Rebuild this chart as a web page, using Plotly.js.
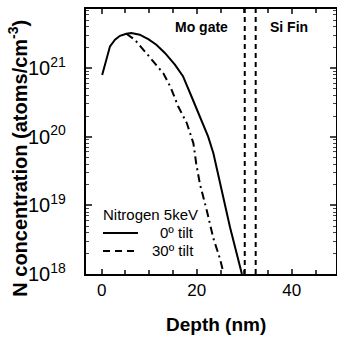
<!DOCTYPE html>
<html>
<head>
<meta charset="utf-8">
<script src="https://cdn.plot.ly/plotly-3.0.1.min.js"></script>
<style>html,body{margin:0;padding:0;background:#fff;}#chart{width:337px;height:341px;}</style>
</head>
<body>
<div id="chart"></div>
<script>
// Depth (nm) and N concentration (atoms/cm^3)
var depth0 = [0.1, 1.05, 1.75, 2.8, 3.85, 5.2, 6.25, 8.0, 9.8, 11.5, 13.3, 15.4, 17.1, 18.9, 20.7, 22.4, 23.5, 24.3, 25.0, 27.0, 29.5];
var conc0  = [7.9e20, 1.40e21, 2.07e21, 2.59e21, 2.95e21, 3.16e21, 3.24e21, 3.06e21, 2.63e21, 2.19e21, 1.66e21, 1.12e21, 7.6e20, 3.85e20, 1.95e20, 1.0e20, 5.75e19, 3.31e19, 2.0e19, 4.8e18, 1.0e18];
var depth30 = [5.2, 7.0, 9.1, 11.2, 13.0, 14.5, 16.1, 17.9, 19.3, 19.9, 20.7, 22.1, 23.5, 24.9, 25.5];
var conc30  = [3.16e21, 2.57e21, 1.74e21, 1.17e21, 8.3e20, 5.25e20, 2.75e20, 1.58e20, 8.0e19, 4.0e19, 2.0e19, 8.5e18, 3.3e18, 1.66e18, 1.12e18];
var boundaries = [30.1, 32.4];          // Mo gate / Si Fin interface lines
var regionLabels = ["Mo gate", "Si Fin"];
var regionLabelX = [21, 39.5];
var seriesNames = ["0\u00ba tilt", "30\u00ba tilt"];
var legendTitle = "Nitrogen 5keV";

var FONT = "Liberation Sans, Arial, sans-serif";

var traces = [
  {x: depth0, y: conc0, mode: "lines", line: {color: "#000", width: 2}, showlegend: false},
  {x: depth30, y: conc30, mode: "lines", line: {color: "#000", width: 2, dash: "8px,4px,2px,4px"}, showlegend: false}
];

var shapes = boundaries.map(function (b) {
  return {type: "line", xref: "x", yref: "paper", x0: b, x1: b, y0: 0, y1: 1,
          line: {color: "#000", width: 2, dash: "5px,4px"}};
});
// legend samples
shapes.push({type: "line", xref: "paper", yref: "paper", x0: 0.068, x1: 0.208, y0: 0.155, y1: 0.155, line: {color: "#000", width: 2}});
shapes.push({type: "line", xref: "paper", yref: "paper", x0: 0.068, x1: 0.208, y0: 0.087, y1: 0.087, line: {color: "#000", width: 2, dash: "7px,5px"}});

function ann(text, x, y, xref, size, xanchor, extra) {
  var a = {text: text, x: x, y: y, xref: xref, yref: "paper", xanchor: xanchor, yanchor: "middle",
           showarrow: false, font: {family: FONT, size: size, color: "#000"}};
  for (var k in (extra || {})) a[k] = extra[k];
  return a;
}

var annotations = regionLabels.map(function (t, i) {
  return ann("<b>" + t + "</b>", regionLabelX[i], 0.932, "x", 14, "center");
});
annotations.push(ann(legendTitle, 0.06, 0.223, "paper", 15, "left"));
annotations.push(ann(seriesNames[0], 0.44, 0.155, "paper", 15, "right"));
annotations.push(ann(seriesNames[1], 0.44, 0.087, "paper", 15, "right"));
// axis titles
annotations.push(ann("<b>N concentration (atoms/cm<sup>-3</sup>)</b>", -0.272, 0.435, "paper", 20, "center", {textangle: -90}));
annotations.push(ann("<b>Depth (nm)</b>", 0.52, -0.192, "paper", 19, "center"));

var layout = {
  width: 337, height: 341,
  margin: {l: 86, r: 1, t: 9, b: 67},
  paper_bgcolor: "#fff", plot_bgcolor: "#fff",
  showlegend: false,
  font: {family: FONT, size: 17, color: "#000"},
  xaxis: {range: [-3.3, 49.3], dtick: 20, tick0: 0, ticks: "inside", ticklen: 5, tickwidth: 2,
          showgrid: false, zeroline: false, showline: true, linewidth: 2, linecolor: "#000", mirror: "allticks",
          minor: {dtick: 5, ticks: "inside", ticklen: 4, tickwidth: 2, showgrid: false},
          tickfont: {family: FONT, size: 17, color: "#000"}},
  yaxis: {type: "log", range: [18, 21.86], dtick: 1, exponentformat: "power", ticks: "inside", ticklen: 6, tickwidth: 2,
          showgrid: false, zeroline: false, showline: true, linewidth: 2, linecolor: "#000", mirror: "allticks",
          minor: {dtick: "D1", ticks: "inside", ticklen: 3, tickwidth: 1, showgrid: false},
          ticklabelstandoff: 15,
          tickfont: {family: FONT, size: 16, color: "#000"}},
  shapes: shapes,
  annotations: annotations
};

Plotly.newPlot("chart", traces, layout, {staticPlot: true, displayModeBar: false});
</script>
</body>
</html>
